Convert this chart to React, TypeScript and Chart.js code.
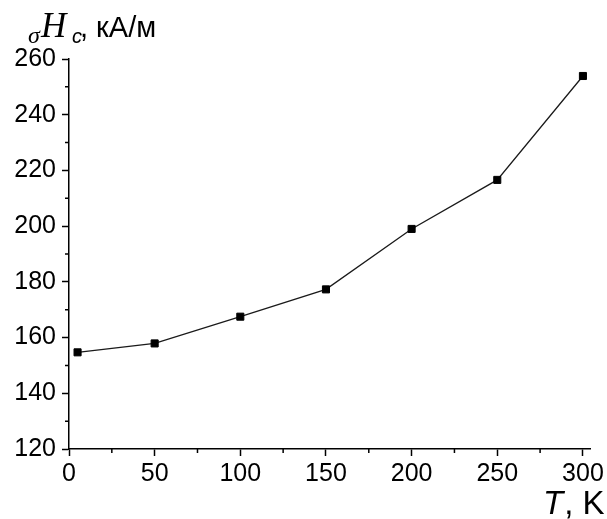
import React, { useEffect, useRef } from "react";
import { Chart, registerables } from "chart.js";

Chart.register(...registerables);

// ---- data ----
const temperatureK = [5, 50, 100, 150, 200, 250, 300];
const coercivityKAm = [154.7, 157.9, 167.5, 177.3, 199.0, 216.6, 253.9];

const xMin = 0;
const xMax = 304.65;
const xStep = 50;
const xMinorTicks = [25, 75, 125, 175, 225, 275];

const yMin = 120;
const yMax = 260;
const yStep = 20;
const yMinorTicks = [130, 150, 170, 190, 210, 230, 250];

const SANS = '"Liberation Sans", Arial, sans-serif';
const SERIF = '"Liberation Serif", "Times New Roman", serif';

const minorTicksPlugin = {
  id: "minorTicks",
  afterDraw(chart: any) {
    const ctx = chart.ctx;
    const xs = chart.scales.x;
    const ys = chart.scales.y;
    const area = chart.chartArea;
    ctx.save();
    ctx.strokeStyle = "#000";
    ctx.lineWidth = 1.5;
    ctx.beginPath();
    for (const v of xMinorTicks) {
      const px = xs.getPixelForValue(v);
      ctx.moveTo(px, area.bottom);
      ctx.lineTo(px, area.bottom + 4);
    }
    for (const v of yMinorTicks) {
      const py = ys.getPixelForValue(v);
      ctx.moveTo(area.left, py);
      ctx.lineTo(area.left - 4, py);
    }
    ctx.stroke();
    ctx.restore();
  },
};

const titlesPlugin = {
  id: "axisTitles",
  afterDraw(chart: any) {
    const ctx = chart.ctx;
    ctx.save();
    ctx.fillStyle = "#000";
    ctx.textAlign = "left";
    ctx.textBaseline = "alphabetic";
    // y title: σHc, кА/м
    ctx.font = `italic 24px ${SERIF}`;
    ctx.fillText("σ", 28, 43);
    ctx.font = `italic 35px ${SERIF}`;
    ctx.fillText("H", 41, 37);
    ctx.font = `italic 20px ${SANS}`;
    ctx.fillText("c", 72, 43);
    ctx.font = `29px ${SANS}`;
    ctx.fillText(", кА/м", 80, 37);
    // x title: T, K
    ctx.font = `italic 33px ${SANS}`;
    ctx.fillText("T", 543, 514);
    const tw = ctx.measureText("T").width;
    ctx.font = `33px ${SANS}`;
    ctx.fillText(", K", 543 + tw + 1, 514);
    ctx.restore();
  },
};

export default function App() {
  const canvasRef = useRef<HTMLCanvasElement | null>(null);

  useEffect(() => {
    if (!canvasRef.current) return;
    const chart = new Chart(canvasRef.current, {
      type: "line",
      data: {
        datasets: [
          {
            data: temperatureK.map((t, i) => ({ x: t, y: coercivityKAm[i] })),
            borderColor: "#1a1a1a",
            borderWidth: 1.3,
            backgroundColor: "#000",
            pointBackgroundColor: "#000",
            pointBorderColor: "#000",
            pointBorderWidth: 1,
            pointStyle: "rect",
            pointRadius: 5,
            tension: 0,
            fill: false,
          },
        ],
      },
      options: {
        responsive: false,
        animation: false,
        devicePixelRatio: 1,
        layout: { padding: { top: 59, right: 14, left: 0, bottom: 0 } },
        plugins: {
          legend: { display: false },
          tooltip: { enabled: false },
          title: { display: false },
        },
        scales: {
          x: {
            type: "linear",
            min: xMin,
            max: xMax,
            afterFit(scale: any) {
              scale.height = 70;
            },
            ticks: {
              stepSize: xStep,
              includeBounds: false,
              color: "#000",
              padding: 3,
              maxRotation: 0,
              font: { family: SANS, size: 25 },
            },
            grid: {
              display: true,
              drawOnChartArea: false,
              drawTicks: true,
              tickLength: 7,
              tickWidth: 1.5,
              tickColor: "#000",
            },
            border: { display: true, color: "#000", width: 1.5 },
          },
          y: {
            type: "linear",
            min: yMin,
            max: yMax,
            afterFit(scale: any) {
              scale.width = 69;
            },
            ticks: {
              stepSize: yStep,
              includeBounds: false,
              color: "#000",
              padding: 6,
              font: { family: SANS, size: 25 },
            },
            grid: {
              display: true,
              drawOnChartArea: false,
              drawTicks: true,
              tickLength: 7,
              tickWidth: 1.5,
              tickColor: "#000",
            },
            border: { display: true, color: "#000", width: 1.5 },
          },
        },
      },
      plugins: [minorTicksPlugin, titlesPlugin],
    });
    return () => chart.destroy();
  }, []);

  return (
    <div
      style={{
        position: "fixed",
        left: 0,
        top: 0,
        width: 607,
        height: 519,
        background: "#fff",
      }}
    >
      <canvas
        ref={canvasRef}
        width={607}
        height={519}
        style={{ display: "block", width: 607, height: 519 }}
      />
    </div>
  );
}
